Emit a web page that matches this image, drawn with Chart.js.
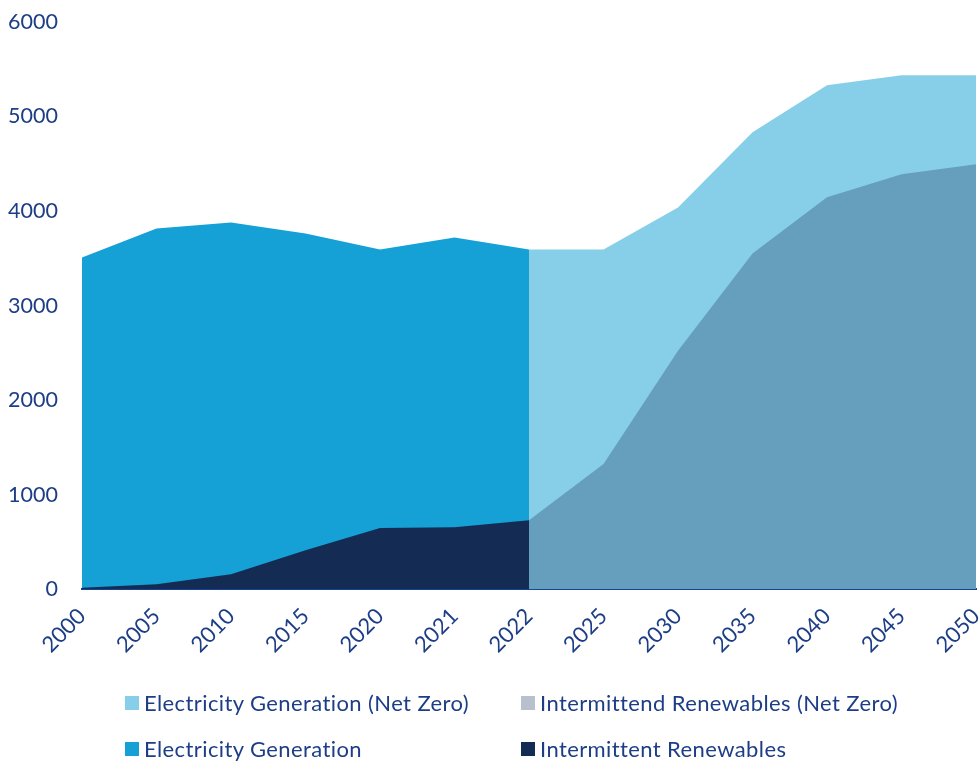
<!DOCTYPE html>
<html lang="en">
<head>
<meta charset="UTF-8" />
<title>Electricity Generation</title>
<script src="https://cdn.jsdelivr.net/npm/chart.js"></script>
<style>
  body { margin: 0; background: #fff; }
  #wrap { position: relative; width: 979px; height: 762px; }
  .item { position: absolute; font-family: Lato, sans-serif; font-size: 22px; letter-spacing: 0.4px; color: #1d3e86; display: flex; align-items: center; white-space: nowrap; }
  .item .box { width: 14px; height: 14px; margin-right: 5px; }
</style>
</head>
<body>
<div id="wrap">
  <canvas id="chart" width="979" height="762"></canvas>
  <div class="item" style="left:125px;top:689px"><span class="box" style="background:#87cfe8"></span>Electricity Generation (Net Zero)</div>
  <div class="item" style="left:521px;top:689px"><span class="box" style="background:#b9c0cd"></span>Intermittend Renewables (Net Zero)</div>
  <div class="item" style="left:125px;top:735px"><span class="box" style="background:#15a1d6"></span>Electricity Generation</div>
  <div class="item" style="left:521px;top:735px"><span class="box" style="background:#142b53"></span>Intermittent Renewables</div>
</div>
<script>
  const years = ["2000", "2005", "2010", "2015", "2020", "2021", "2022", "2025", "2030", "2035", "2040", "2045", "2050"];

  // historical values (2000-2022), net zero pathway (2022-2050)
  const generation = [3509, 3816, 3880, 3763, 3594, 3721, 3594, null, null, null, null, null, null];
  const renewables = [15, 53, 159, 413, 647, 657, 731, null, null, null, null, null, null];
  const generationNZ = [null, null, null, null, null, null, 3594, 3594, 4039, 4834, 5332, 5438, 5438];
  const renewablesNZ = [null, null, null, null, null, null, 731, 1325, 2523, 3551, 4145, 4389, 4495];

  const yTicks = [0, 1000, 2000, 3000, 4000, 5000, 6000];

  const textColor = "#1d3e86";

  function area(label, data, color) {
    return {
      label: label,
      data: data,
      fill: "origin",
      backgroundColor: color,
      borderWidth: 0,
      pointRadius: 0,
      tension: 0,
      spanGaps: false,
    };
  }

  const ctx = document.getElementById("chart").getContext("2d");
  new Chart(ctx, {
    type: "line",
    data: {
      labels: years,
      datasets: [
        area("Intermittent Renewables", renewables, "#142b53"),
        area("Intermittend Renewables (Net Zero)", renewablesNZ, "#669fbd"),
        area("Electricity Generation", generation, "#15a1d6"),
        area("Electricity Generation (Net Zero)", generationNZ, "#87cfe8"),
      ],
    },
    options: {
      responsive: false,
      animation: false,
      layout: { padding: { left: 0, right: 3, top: 22, bottom: 98 } },
      plugins: { legend: { display: false }, tooltip: { enabled: false } },
      scales: {
        x: {
          offset: false,
          grid: { display: false },
          border: { display: true, color: "#14439a", width: 2 },
          ticks: {
            color: textColor,
            font: { family: "Lato", size: 22 },
            minRotation: 45,
            maxRotation: 45,
            padding: 6,
          },
          afterFit: (s) => {
            s.paddingLeft = 0;
            s.paddingRight = 0;
          },
        },
        y: {
          min: 0,
          max: 6000,
          afterBuildTicks: (axis) => {
            axis.ticks = yTicks.map((v) => ({ value: v }));
          },
          afterFit: (s) => {
            s.width = 82;
            s.paddingTop = 0;
            s.paddingBottom = 0;
          },
          grid: { display: false, drawTicks: false },
          border: { display: false },
          ticks: {
            color: textColor,
            font: { family: "Lato", size: 21.5 },
            padding: 24,
            callback: (v) => String(v),
          },
        },
      },
    },
  });
</script>
</body>
</html>
